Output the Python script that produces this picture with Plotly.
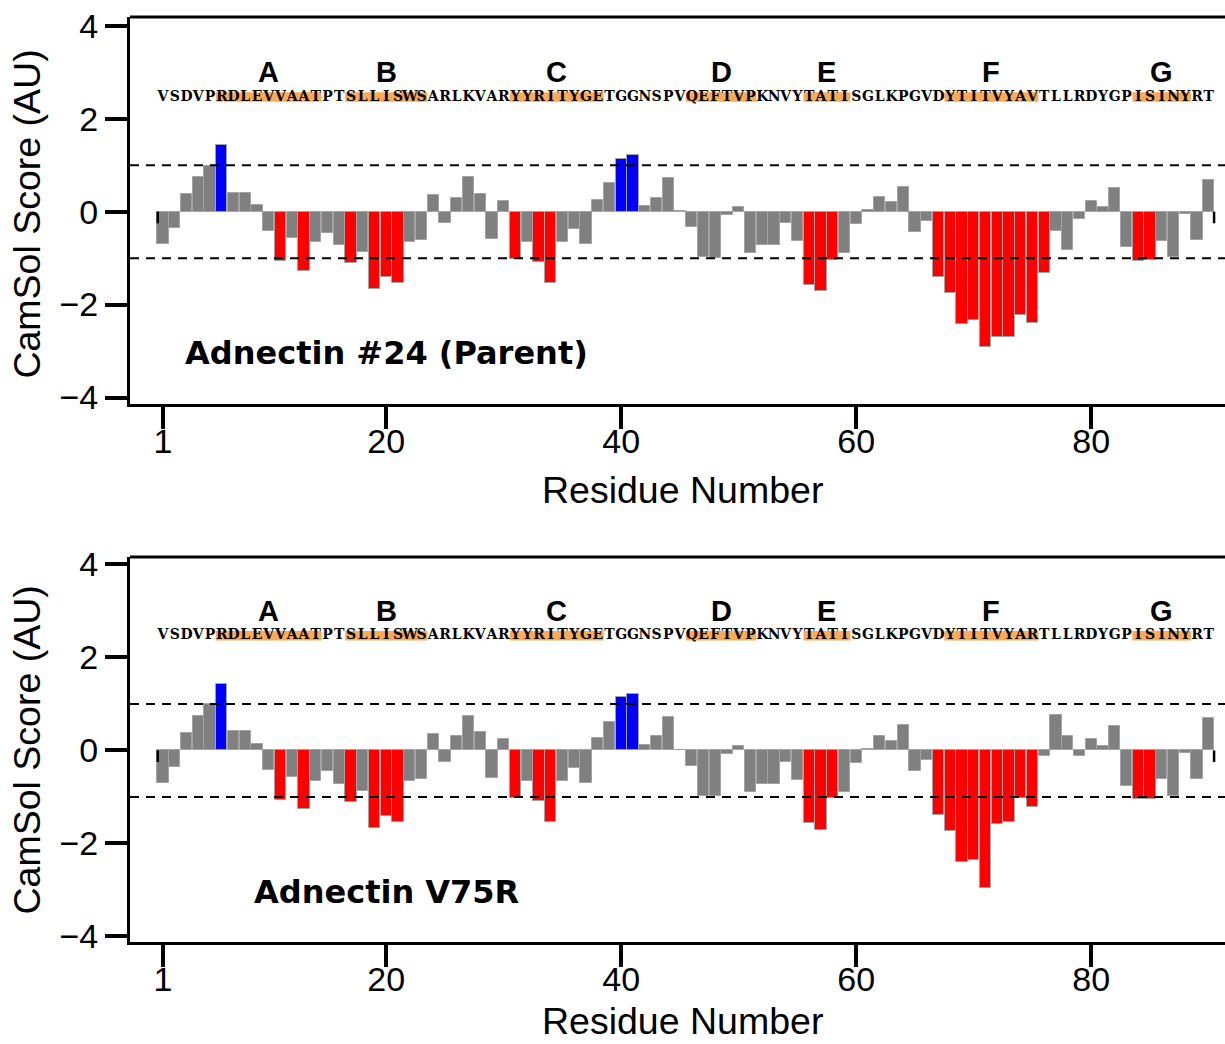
import plotly.graph_objects as go

# Residue numbering and sequences of the two Adnectin variants
residues = list(range(1, 91))
seq_parent = "VSDVPRDLEVVAATPTSLLISWSARLKVARYYRITYGETGGNSPVQEFTVPKNVYTATISGLKPGVDYTITVYAVTLLRDYGPISINYRT"
seq_v75r = "VSDVPRDLEVVAATPTSLLISWSARLKVARYYRITYGETGGNSPVQEFTVPKNVYTATISGLKPGVDYTITVYARTLLRDYGPISINYRT"

# Beta strands (label, first residue, last residue)
strand_labels = ["A", "B", "C", "D", "E", "F", "G"]
strand_start = [6, 17, 31, 46, 56, 68, 84]
strand_end = [14, 23, 38, 51, 59, 75, 88]

# CamSol intrinsic solubility profile per residue
score_parent = [
    -0.70, -0.35, 0.38, 0.74, 0.99, 1.43, 0.41, 0.41, 0.14, -0.42,
    -1.07, -0.57, -1.27, -0.66, -0.45, -0.72, -1.10, -0.87, -1.66, -1.41,
    -1.54, -0.65, -0.61, 0.35, -0.25, 0.30, 0.75, 0.39, -0.59, 0.24,
    -1.02, -0.65, -1.09, -1.53, -0.65, -0.38, -0.70, 0.26, 0.62, 1.14,
    1.22, 0.12, 0.30, 0.72, 0.01, -0.34, -0.98, -0.99, -0.08, 0.10,
    -0.90, -0.72, -0.72, -0.24, -0.63, -1.57, -1.71, -1.03, -0.90, -0.27,
    0.04, 0.32, 0.21, 0.54, -0.44, -0.20, -1.40, -1.75, -2.42, -2.34,
    -2.92, -2.69, -2.70, -2.22, -2.39, -1.31, -0.42, -0.82, -0.16, 0.22,
    0.09, 0.52, -0.77, -1.06, -1.05, -0.63, -0.98, -0.06, -0.62, 0.68,
]
score_v75r = [
    -0.70, -0.35, 0.38, 0.74, 0.99, 1.43, 0.41, 0.41, 0.14, -0.42,
    -1.07, -0.57, -1.27, -0.66, -0.45, -0.72, -1.10, -0.87, -1.66, -1.41,
    -1.54, -0.65, -0.61, 0.35, -0.25, 0.30, 0.75, 0.39, -0.59, 0.24,
    -1.02, -0.65, -1.09, -1.53, -0.65, -0.38, -0.70, 0.26, 0.62, 1.14,
    1.22, 0.12, 0.30, 0.72, 0.01, -0.34, -0.98, -0.99, -0.08, 0.10,
    -0.90, -0.72, -0.72, -0.24, -0.63, -1.57, -1.71, -1.03, -0.90, -0.27,
    0.04, 0.32, 0.21, 0.54, -0.44, -0.20, -1.39, -1.73, -2.41, -2.35,
    -2.95, -1.58, -1.53, -1.03, -1.21, -0.13, 0.76, 0.32, -0.11, 0.24,
    0.09, 0.53, -0.77, -1.05, -1.04, -0.62, -0.97, -0.06, -0.62, 0.69,
]

panel_names = ["Adnectin #24 (Parent)", "Adnectin V75R"]
panel_scores = [score_parent, score_v75r]
panel_seqs = [seq_parent, seq_v75r]

x_title = "Residue Number"
y_title = "CamSol Score (AU)"
y_ticks = [-4, -2, 0, 2, 4]
y_ticktext = ["\u22124", "\u22122", "0", "2", "4"]
x_ticks = [1, 20, 40, 60, 80]

THRESH = 1.0
SEQ_Y = 2.467
BAND_LO, BAND_HI = 2.366, 2.568
LETTER_Y = 3.0
NAME_X, NAME_Y = 20, -3.05

AXIS_FONT = "Liberation Sans, Arial"


def bar_colour(v):
    if v > THRESH:
        return "#0000ff"
    if v < -THRESH:
        return "#ff0000"
    return "#808080"


fig = go.Figure()
shapes = []
annotations = []

y_domains = [[0.5816, 1.0], [0.0, 0.4162]]
y_ranges = [[-4.14, 4.19], [-4.12, 4.16]]
xtitle_y = [-0.222, -0.2052]
ytitle_y = [0.492, 0.50]

for i in range(2):
    xa = "x" if i == 0 else "x2"
    ya = "y" if i == 0 else "y2"
    scores = panel_scores[i]

    fig.add_trace(go.Bar(
        x=residues, y=scores, width=0.95,
        marker=dict(color=[bar_colour(v) for v in scores],
                    line=dict(color="#a3a3a3", width=1)),
        xaxis=xa, yaxis=ya, showlegend=False, hoverinfo="x+y",
    ))

    # sequence, one letter per residue
    fig.add_trace(go.Scatter(
        x=residues, y=[SEQ_Y] * len(residues), mode="text",
        text=list(panel_seqs[i]), textposition="middle center",
        textfont=dict(family="DejaVu Serif", size=14, color="black", weight="bold"),
        xaxis=xa, yaxis=ya, showlegend=False, hoverinfo="skip",
    ))

    for lab, s, e in zip(strand_labels, strand_start, strand_end):
        shapes.append(dict(type="rect", xref=xa, yref=ya, x0=s - 0.5, x1=e + 0.5,
                           y0=BAND_LO, y1=BAND_HI, fillcolor="#fcaa58",
                           line=dict(width=0), layer="below"))
        annotations.append(dict(xref=xa, yref=ya, x=(s + e) / 2, y=LETTER_Y, text=lab,
                                showarrow=False,
                                font=dict(family=AXIS_FONT, size=29,
                                          color="black", weight="bold")))

    # solubility thresholds
    for lvl in (THRESH, -THRESH):
        shapes.append(dict(type="line", xref=xa + " domain", yref=ya, x0=0, x1=1,
                           y0=lvl, y1=lvl, layer="above",
                           line=dict(color="black", width=2, dash="9px,7px")))

    # frame top edge
    shapes.append(dict(type="line", xref=xa + " domain", yref=ya + " domain",
                       x0=0, x1=1, y0=1, y1=1, line=dict(color="black", width=3)))

    # short end markers on the zero line
    for xe in (residues[0] - 0.45, residues[-1] + 0.45):
        shapes.append(dict(type="line", xref=xa, yref=ya, x0=xe, x1=xe, y0=0, y1=-0.25,
                           layer="above", line=dict(color="black", width=2.5)))

    annotations.append(dict(xref=xa, yref=ya, x=NAME_X, y=NAME_Y, text=panel_names[i],
                            showarrow=False,
                            font=dict(family="DejaVu Sans", size=32, color="black",
                                      weight="bold")))

    # axis titles
    annotations.append(dict(xref=xa + " domain", yref=ya + " domain",
                            x=0.5046, y=xtitle_y[i], text=x_title, showarrow=False,
                            xanchor="center", yanchor="middle",
                            font=dict(family=AXIS_FONT, size=37.5, color="black")))
    annotations.append(dict(xref=xa + " domain", yref=ya + " domain",
                            x=-0.0941, y=ytitle_y[i], text=y_title, showarrow=False,
                            textangle=-90, xanchor="center", yanchor="middle",
                            font=dict(family=AXIS_FONT, size=37.5, color="black")))

axis_common = dict(
    showline=True, linewidth=3, linecolor="black", mirror=False,
    ticks="outside", ticklen=22, tickwidth=4, tickcolor="black",
    showgrid=False, zeroline=False, automargin=False,
    tickfont=dict(family=AXIS_FONT, size=34, color="black"),
)

layout = dict(
    width=1225, height=1044,
    margin=dict(l=130, r=0, t=17, b=102),
    plot_bgcolor="white", paper_bgcolor="white",
    shapes=shapes, annotations=annotations,
    bargap=0,
)

for i in range(2):
    xkey = "xaxis" if i == 0 else "xaxis2"
    ykey = "yaxis" if i == 0 else "yaxis2"
    layout[xkey] = dict(
        axis_common, domain=[0, 1], anchor="y" if i == 0 else "y2",
        range=[-1.81, 91.38], tickmode="array", tickvals=x_ticks,
        ticklabelstandoff=-17,
    )
    layout[ykey] = dict(
        axis_common, domain=y_domains[i], anchor="x" if i == 0 else "x2",
        range=y_ranges[i], tickmode="array", tickvals=y_ticks, ticktext=y_ticktext,
    )

fig.update_layout(**layout)
fig.write_html("out.html")
